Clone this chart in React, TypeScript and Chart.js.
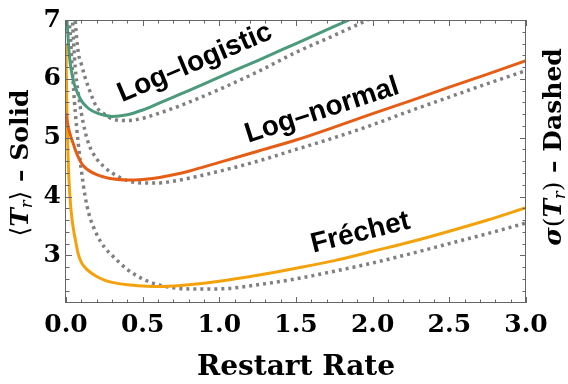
import React, { useEffect, useRef } from "react";
import { Chart, registerables } from "chart.js";

Chart.register(...registerables);

// Restart rate grid (x values)
const restartRate = [0, 0.005, 0.01, 0.02, 0.03, 0.04, 0.05, 0.06, 0.08, 0.1, 0.125, 0.15, 0.2, 0.25, 0.3, 0.4, 0.5, 0.6, 0.7, 0.8, 1.0, 1.25, 1.5, 1.75, 2.0, 2.25, 2.5, 2.75, 3.0];

// Mean <T_r> (solid)
const logLogisticMean = [9.5, 7.2, 6.85, 6.45, 6.22, 6.07, 5.95, 5.86, 5.73, 5.63, 5.55, 5.49, 5.42, 5.38, 5.36, 5.39, 5.47, 5.58, 5.69, 5.8, 6.03, 6.31, 6.6, 6.89, 7.18, 7.47, 7.76, 8.05, 8.34];
const logNormalMean = [5.42, 5.33, 5.25, 5.12, 5.03, 4.95, 4.88, 4.8, 4.67, 4.57, 4.49, 4.44, 4.37, 4.33, 4.3, 4.28, 4.29, 4.32, 4.37, 4.43, 4.58, 4.77, 4.96, 5.18, 5.41, 5.63, 5.86, 6.08, 6.31];
const frechetMean = [6.6, 5.6, 5.0, 4.25, 3.85, 3.6, 3.42, 3.28, 3.02, 2.88, 2.79, 2.73, 2.64, 2.58, 2.54, 2.5, 2.48, 2.47, 2.48, 2.5, 2.56, 2.66, 2.78, 2.91, 3.07, 3.23, 3.41, 3.6, 3.81];

// Standard deviation sigma(T_r) (dashed)
const logLogisticStd = [14, 13, 12, 10.5, 9.3, 8.3, 7.5, 7.0, 6.45, 6.25, 6.02, 5.83, 5.52, 5.4, 5.32, 5.29, 5.33, 5.41, 5.5, 5.6, 5.82, 6.12, 6.45, 6.74, 7.04, 7.34, 7.64, 7.94, 8.24];
const logNormalStd = [16, 14, 12.5, 10, 8.2, 7.2, 6.6, 6.2, 5.75, 5.42, 5.1, 4.88, 4.64, 4.5, 4.4, 4.27, 4.23, 4.23, 4.26, 4.31, 4.43, 4.6, 4.8, 5.0, 5.22, 5.46, 5.69, 5.92, 6.14];
const frechetStd = [20, 15, 11, 7.3, 6.7, 6.2, 5.8, 5.45, 4.9, 4.45, 4.0, 3.7, 3.36, 3.14, 3.0, 2.76, 2.6, 2.5, 2.45, 2.43, 2.43, 2.5, 2.6, 2.73, 2.87, 3.03, 3.2, 3.37, 3.55];

const xTickValues = [0, 0.5, 1, 1.5, 2, 2.5, 3];
const yTickValues = [3, 4, 5, 6, 7];
const xRange = [0, 3];
const yRange = [2.19, 7];
const xMinorStep = 0.1;
const yMinorStep = 0.2;

const curveLabels = [
  { text: "Log–logistic", x: 0.84, y: 6.27, angle: -23 },
  { text: "Log–normal", x: 1.67, y: 5.46, angle: -18 },
  { text: "Fréchet", x: 1.92, y: 3.38, angle: -14 },
];

const xTitle = "Restart Rate";

const COLORS = {
  logLogistic: "#4A9A7B",
  logNormal: "#E65E16",
  frechet: "#F4A20C",
  dotted: "#808080",
  frame: "#666666",
};

const SERIF = "'DejaVu Serif', serif";
const SANS = "'Liberation Sans', Arial, sans-serif";

type Part = { text: string; font: string; dy?: number };

function drawRich(ctx: CanvasRenderingContext2D, parts: Part[], cx: number, cy: number, rot: number, capHalf: number) {
  ctx.save();
  ctx.translate(cx, cy);
  ctx.rotate(rot);
  ctx.textBaseline = "alphabetic";
  ctx.textAlign = "left";
  ctx.fillStyle = "#000";
  const widths = parts.map((p) => {
    ctx.font = p.font;
    return ctx.measureText(p.text).width;
  });
  const total = widths.reduce((a, b) => a + b, 0);
  let x = -total / 2;
  parts.forEach((p, i) => {
    ctx.font = p.font;
    ctx.fillText(p.text, x, capHalf + (p.dy || 0));
    x += widths[i];
  });
  ctx.restore();
}

const decorPlugin = {
  id: "decor",
  afterDatasetsDraw(chart: any) {
    const { ctx, chartArea: a, scales } = chart;
    const xs = scales.x;
    const ys = scales.y;
    ctx.save();
    ctx.strokeStyle = COLORS.frame;
    ctx.lineWidth = 1;
    ctx.beginPath();
    const nx = Math.round((xRange[1] - xRange[0]) / xMinorStep);
    for (let i = 0; i <= nx; i++) {
      const v = xRange[0] + i * xMinorStep;
      const px = Math.round(xs.getPixelForValue(v)) + 0.5;
      const major = xTickValues.some((t) => Math.abs(t - v) < 1e-6);
      const len = major ? 6 : 3.5;
      ctx.moveTo(px, a.bottom);
      ctx.lineTo(px, a.bottom - len);
      ctx.moveTo(px, a.top);
      ctx.lineTo(px, a.top + len);
    }
    const y0 = Math.ceil(yRange[0] / yMinorStep - 1e-6) * yMinorStep;
    for (let v = y0; v <= yRange[1] + 1e-6; v += yMinorStep) {
      const py = Math.round(ys.getPixelForValue(v)) + 0.5;
      const major = yTickValues.some((t) => Math.abs(t - v) < 1e-6);
      const len = major ? 6 : 3.5;
      ctx.moveTo(a.left, py);
      ctx.lineTo(a.left + len, py);
      ctx.moveTo(a.right, py);
      ctx.lineTo(a.right - len, py);
    }
    ctx.stroke();
    ctx.strokeRect(a.left - 0.5, a.top + 0.5, a.right - a.left, a.bottom - a.top - 1);
    ctx.restore();

    // curve labels
    ctx.save();
    ctx.fillStyle = "#000";
    ctx.font = `bold 28px ${SANS}`;
    ctx.textAlign = "center";
    ctx.textBaseline = "middle";
    curveLabels.forEach((l) => {
      ctx.save();
      ctx.translate(xs.getPixelForValue(l.x), ys.getPixelForValue(l.y));
      ctx.rotate((l.angle * Math.PI) / 180);
      ctx.fillText(l.text, 0, 0);
      ctx.restore();
    });
    ctx.restore();

    // axis titles
    const cx = (a.left + a.right) / 2;
    drawRich(ctx, [{ text: xTitle, font: `bold 28px ${SERIF}` }], cx, 365, 0, 10);
    const fs = 25;
    const cap = fs * 0.36;
    drawRich(
      ctx,
      [
        { text: "⟨", font: `${fs}px 'DejaVu Sans', sans-serif` },
        { text: "T", font: `bold italic ${fs}px ${SERIF}` },
        { text: "r", font: `italic ${Math.round(fs * 0.62)}px ${SERIF}`, dy: 4 },
        { text: "⟩", font: `${fs}px 'DejaVu Sans', sans-serif` },
        { text: " – Solid", font: `bold ${fs}px ${SERIF}` },
      ],
      19,
      163,
      -Math.PI / 2,
      cap
    );
    drawRich(
      ctx,
      [
        { text: "σ", font: `bold italic ${fs}px ${SERIF}` },
        { text: "(", font: `${fs}px ${SERIF}` },
        { text: "T", font: `bold italic ${fs}px ${SERIF}` },
        { text: "r", font: `italic ${Math.round(fs * 0.62)}px ${SERIF}`, dy: 4 },
        { text: ")", font: `${fs}px ${SERIF}` },
        { text: " – Dashed", font: `bold ${fs}px ${SERIF}` },
      ],
      552,
      147,
      -Math.PI / 2,
      cap
    );
  },
};

function points(ys: number[]) {
  return restartRate.map((x, i) => ({ x, y: ys[i] }));
}

export default function App() {
  const ref = useRef<HTMLCanvasElement | null>(null);
  useEffect(() => {
    if (!ref.current) return;
    const solid = (data: number[], color: string) => ({
      data: points(data),
      borderColor: color,
      borderWidth: 3,
      pointRadius: 0,
      fill: false,
      cubicInterpolationMode: "monotone" as const,
      clip: 0,
    });
    const dotted = (data: number[]) => ({
      data: points(data),
      borderColor: COLORS.dotted,
      borderWidth: 3.5,
      borderDash: [3, 4],
      borderCapStyle: "butt" as const,
      pointRadius: 0,
      fill: false,
      cubicInterpolationMode: "monotone" as const,
      clip: 0,
    });
    const chart = new Chart(ref.current, {
      type: "line",
      data: {
        datasets: [
          { label: "Log-logistic ⟨Tr⟩", ...solid(logLogisticMean, COLORS.logLogistic) },
          { label: "Log-normal ⟨Tr⟩", ...solid(logNormalMean, COLORS.logNormal) },
          { label: "Fréchet ⟨Tr⟩", ...solid(frechetMean, COLORS.frechet) },
          { label: "Log-logistic σ(Tr)", ...dotted(logLogisticStd) },
          { label: "Log-normal σ(Tr)", ...dotted(logNormalStd) },
          { label: "Fréchet σ(Tr)", ...dotted(frechetStd) },
        ],
      },
      options: {
        animation: false,
        responsive: false,
        devicePixelRatio: 1,
        layout: { padding: { top: 19, right: 42, left: 0, bottom: 0 } },
        plugins: { legend: { display: false }, tooltip: { enabled: false } },
        scales: {
          x: {
            type: "linear",
            position: "bottom",
            min: xRange[0],
            max: xRange[1],
            afterBuildTicks: (s: any) => {
              s.ticks = xTickValues.map((v) => ({ value: v }));
            },
            afterFit: (s: any) => {
              s.height = 81;
            },
            grid: { display: false, drawTicks: false },
            border: { display: false },
            ticks: {
              padding: 7,
              color: "#000",
              maxRotation: 0,
              autoSkip: false,
              font: { family: SERIF, size: 25, weight: "bold" },
              callback: (v: any) => Number(v).toFixed(1),
            },
          },
          y: {
            type: "linear",
            position: "left",
            min: yRange[0],
            max: yRange[1],
            afterBuildTicks: (s: any) => {
              s.ticks = yTickValues.map((v) => ({ value: v }));
            },
            afterFit: (s: any) => {
              s.width = 66;
            },
            grid: { display: false, drawTicks: false },
            border: { display: false },
            ticks: {
              padding: 5,
              color: "#000",
              autoSkip: false,
              font: { family: SERIF, size: 25, weight: "bold" },
              callback: (v: any) => String(v),
            },
          },
        },
      },
      plugins: [decorPlugin],
    } as any);
    return () => chart.destroy();
  }, []);
  return (
    <div style={{ position: "fixed", left: 0, top: 0, width: 568, height: 384, background: "#fff" }}>
      <canvas ref={ref} width={568} height={384} style={{ display: "block" }} />
    </div>
  );
}
